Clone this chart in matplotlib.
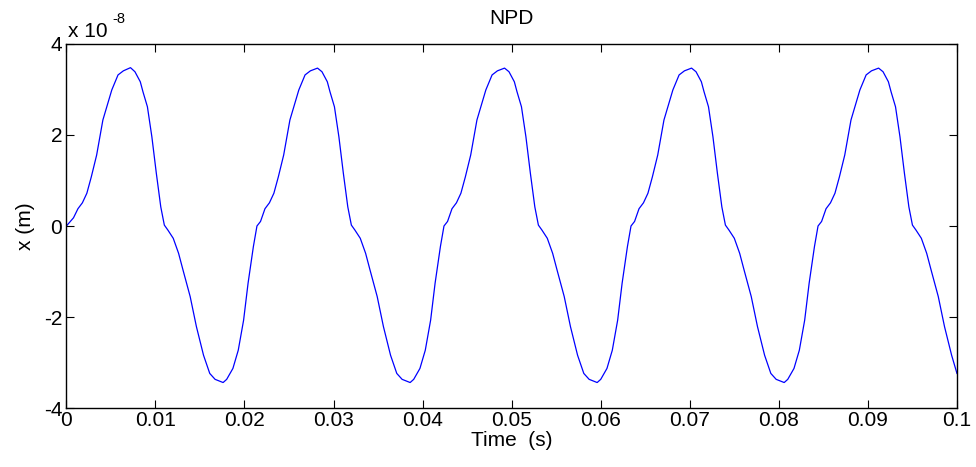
import matplotlib.pyplot as plt

plt.rcParams['font.family'] = ['Liberation Sans', 'DejaVu Sans']

TIME = [
    0.0000, 0.0008, 0.0013, 0.0018, 0.0023, 0.0028, 0.0034, 0.0041, 0.0051, 0.0058, 0.0064, 0.0072,
    0.0077, 0.0083, 0.0086, 0.0091, 0.0096, 0.0101, 0.0106, 0.0110, 0.0114, 0.0120, 0.0126, 0.0131,
    0.0139, 0.0146, 0.0154, 0.0161, 0.0167, 0.0176, 0.0180, 0.0187, 0.0193, 0.0199, 0.0204, 0.0210,
    0.0214, 0.0218, 0.0223, 0.0228, 0.0233, 0.0238, 0.0244, 0.0251, 0.0261, 0.0268, 0.0274, 0.0282,
    0.0287, 0.0293, 0.0296, 0.0301, 0.0306, 0.0311, 0.0316, 0.0320, 0.0324, 0.0330, 0.0336, 0.0341,
    0.0349, 0.0356, 0.0364, 0.0371, 0.0377, 0.0386, 0.0390, 0.0397, 0.0403, 0.0409, 0.0414, 0.0420,
    0.0424, 0.0428, 0.0433, 0.0438, 0.0443, 0.0448, 0.0454, 0.0461, 0.0471, 0.0478, 0.0484, 0.0492,
    0.0497, 0.0503, 0.0506, 0.0511, 0.0516, 0.0521, 0.0526, 0.0530, 0.0534, 0.0540, 0.0546, 0.0551,
    0.0559, 0.0566, 0.0574, 0.0581, 0.0587, 0.0596, 0.0600, 0.0607, 0.0613, 0.0619, 0.0624, 0.0630,
    0.0634, 0.0638, 0.0643, 0.0648, 0.0653, 0.0658, 0.0664, 0.0671, 0.0681, 0.0688, 0.0694, 0.0702,
    0.0707, 0.0713, 0.0716, 0.0721, 0.0726, 0.0731, 0.0736, 0.0740, 0.0744, 0.0750, 0.0756, 0.0761,
    0.0769, 0.0776, 0.0784, 0.0791, 0.0797, 0.0806, 0.0810, 0.0817, 0.0823, 0.0829, 0.0834, 0.0840,
    0.0844, 0.0848, 0.0853, 0.0858, 0.0863, 0.0868, 0.0874, 0.0881, 0.0891, 0.0898, 0.0904, 0.0912,
    0.0917, 0.0923, 0.0926, 0.0931, 0.0936, 0.0941, 0.0946, 0.0950, 0.0954, 0.0960, 0.0966, 0.0971,
    0.0979, 0.0986, 0.0994, 0.1000,
]
DISP = [
    0.00, 0.18, 0.38, 0.51, 0.72, 1.08, 1.56, 2.33, 2.99, 3.32, 3.41, 3.48,
    3.39, 3.17, 2.95, 2.62, 1.96, 1.16, 0.42, 0.02, -0.09, -0.27, -0.60, -0.97,
    -1.55, -2.21, -2.84, -3.24, -3.37, -3.44, -3.37, -3.13, -2.73, -2.07, -1.26, -0.45,
    0.00, 0.10, 0.38, 0.51, 0.72, 1.08, 1.56, 2.33, 2.99, 3.32, 3.41, 3.47,
    3.39, 3.17, 2.95, 2.62, 1.96, 1.16, 0.42, 0.02, -0.09, -0.27, -0.60, -0.97,
    -1.55, -2.21, -2.84, -3.24, -3.37, -3.44, -3.37, -3.13, -2.73, -2.07, -1.26, -0.45,
    0.00, 0.10, 0.38, 0.51, 0.72, 1.08, 1.56, 2.33, 2.99, 3.32, 3.41, 3.47,
    3.39, 3.17, 2.95, 2.62, 1.96, 1.16, 0.42, 0.02, -0.09, -0.27, -0.60, -0.97,
    -1.55, -2.21, -2.84, -3.24, -3.37, -3.44, -3.37, -3.13, -2.73, -2.07, -1.26, -0.45,
    0.00, 0.10, 0.38, 0.51, 0.72, 1.08, 1.56, 2.33, 2.99, 3.32, 3.41, 3.47,
    3.39, 3.17, 2.95, 2.62, 1.96, 1.16, 0.42, 0.02, -0.09, -0.27, -0.60, -0.97,
    -1.55, -2.21, -2.84, -3.24, -3.37, -3.44, -3.37, -3.13, -2.73, -2.07, -1.26, -0.45,
    0.00, 0.10, 0.38, 0.51, 0.72, 1.08, 1.56, 2.33, 2.99, 3.32, 3.41, 3.47,
    3.39, 3.17, 2.95, 2.62, 1.96, 1.16, 0.42, 0.02, -0.09, -0.27, -0.60, -0.97,
    -1.55, -2.21, -2.84, -3.24,
]
X_TICKS = [0, 0.01, 0.02, 0.03, 0.04, 0.05, 0.06, 0.07, 0.08, 0.09, 0.1]
X_LABELS = ["0", "0.01", "0.02", "0.03", "0.04", "0.05", "0.06", "0.07", "0.08", "0.09", "0.1"]
Y_TICKS = [-4, -2, 0, 2, 4]

fig = plt.figure(figsize=(9.76, 4.67), dpi=100)
ax = fig.add_axes([0.068, 0.1263, 0.9125, 0.7795])

ax.plot(TIME, DISP, color="#0000ff", lw=0.9)

ax.set_xlim(0, 0.1)
ax.set_ylim(-4, 4)
ax.set_xticks(X_TICKS)
ax.set_xticklabels(X_LABELS)
ax.set_yticks(Y_TICKS)
ax.set_yticklabels([str(v) for v in Y_TICKS])
ax.tick_params(direction="in", length=6, width=0.8, labelsize=15,
               top=True, right=True, pad=2, colors="black")
ax.tick_params(axis="y", pad=3)
for s in ax.spines.values():
    s.set_linewidth(1.0)

# MATLAB-style exponent label above the y axis
ax.annotate("x 10", xy=(0, 1), xycoords="axes fraction", xytext=(1, 5),
            textcoords="offset points", fontsize=15, ha="left", va="baseline")
ax.annotate("-8", xy=(0, 1), xycoords="axes fraction", xytext=(33, 15),
            textcoords="offset points", fontsize=10.5, ha="left", va="baseline")
ax.set_title("NPD", fontsize=15, pad=14.5)
ax.set_xlabel("Time  (s)", fontsize=15, labelpad=1)
ax.set_ylabel("x (m)", fontsize=15, labelpad=6)

plt.savefig("out.png", dpi=100)
plt.close()
